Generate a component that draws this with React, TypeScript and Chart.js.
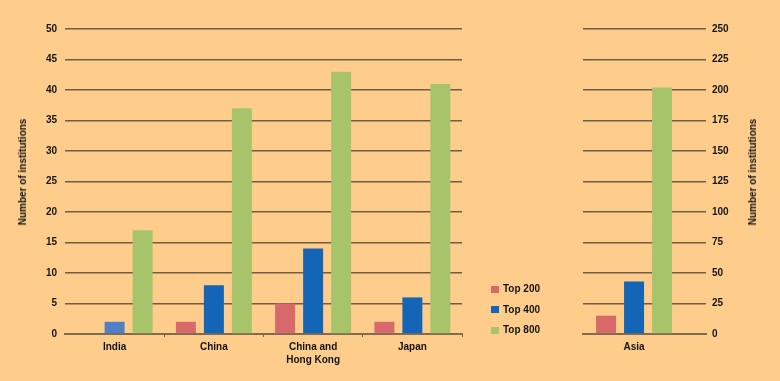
import React, { useEffect, useRef } from "react";
import { Chart, registerables } from "chart.js";

Chart.register(...registerables);

const regionLabels: (string | string[])[] = ["India", "China", ["China and", "Hong Kong"], "Japan"];
const top200: (number | null)[] = [null, 2, 5, 2];
const top400: number[] = [2, 8, 14, 6];
const top800: number[] = [17, 37, 43, 41];

const asiaLabels: string[] = ["Asia"];
const asiaTop200: number[] = [15];
const asiaTop400: number[] = [43];
const asiaTop800: number[] = [202];

const seriesNames = ["Top 200", "Top 400", "Top 800"];
const seriesColors = ["#D8696A", "#1565B6", "#A8C46A"];
const indiaBlue = "#4F7FC6";

const BG = "#FECD8C";
const GRID = "#6F5D44";
const FONT = "'Liberation Sans', Arial, sans-serif";
const TEXT = "#141414";

const tickFont = { family: FONT, weight: "bold" as const, size: 10, lineHeight: 1.25 };

export default function App() {
  const leftRef = useRef<HTMLCanvasElement | null>(null);
  const rightRef = useRef<HTMLCanvasElement | null>(null);

  useEffect(() => {
    document.body.style.margin = "0";
    const left = new Chart(leftRef.current!, {
      type: "bar",
      data: {
        labels: regionLabels,
        datasets: [
          { label: seriesNames[0], data: top200, backgroundColor: seriesColors[0] },
          {
            label: seriesNames[1],
            data: top400,
            backgroundColor: top400.map((_, i) => (i === 0 ? indiaBlue : seriesColors[1])),
          },
          { label: seriesNames[2], data: top800, backgroundColor: seriesColors[2] },
        ],
      },
      options: {
        animation: false,
        responsive: false,
        maintainAspectRatio: false,
        layout: { padding: { left: 0, right: 13, top: 29, bottom: 0 } },
        plugins: { legend: { display: false }, tooltip: { enabled: false } },
        datasets: { bar: { categoryPercentage: 0.846, barPercentage: 0.714 } },
        scales: {
          x: {
            grid: {
              drawOnChartArea: false,
              drawTicks: true,
              tickLength: 3,
              color: (ctx: any) => (ctx.index === 0 || ctx.index >= regionLabels.length ? "rgba(0,0,0,0)" : GRID),
            },
            border: { display: true, color: "#7E6C52", width: 2 },
            ticks: { color: TEXT, font: tickFont, padding: 4, maxRotation: 0, autoSkip: false },
            afterFit: (s: any) => {
              s.height = 47;
            },
          },
          y: {
            min: 0,
            max: 50,
            grid: { color: GRID, lineWidth: 1.5, drawTicks: false },
            border: { display: false },
            ticks: { stepSize: 5, color: TEXT, font: tickFont, padding: 8 },
            afterFit: (s: any) => {
              s.width = 65;
            },
          },
        },
      },
    });

    const right = new Chart(rightRef.current!, {
      type: "bar",
      data: {
        labels: asiaLabels,
        datasets: [
          { label: seriesNames[0], data: asiaTop200, backgroundColor: seriesColors[0] },
          { label: seriesNames[1], data: asiaTop400, backgroundColor: seriesColors[1] },
          { label: seriesNames[2], data: asiaTop800, backgroundColor: seriesColors[2] },
        ],
      },
      options: {
        animation: false,
        responsive: false,
        maintainAspectRatio: false,
        layout: { padding: { left: 108, right: 0, top: 29, bottom: 0 } },
        plugins: { legend: { display: false }, tooltip: { enabled: false } },
        datasets: { bar: { categoryPercentage: 0.683, barPercentage: 0.714 } },
        scales: {
          x: {
            grid: { drawOnChartArea: false, drawTicks: false },
            border: { display: true, color: "#7E6C52", width: 2 },
            ticks: { color: TEXT, font: tickFont, padding: 7, maxRotation: 0 },
            afterBuildTicks: (s: any) => {
              // the group sits left of the panel's centre in the reference
              s._startValue = -0.415;
            },
            afterFit: (s: any) => {
              s.height = 47;
            },
          },
          y: {
            position: "right",
            min: 0,
            max: 250,
            grid: { color: GRID, lineWidth: 1.5, drawTicks: false },
            border: { display: false },
            ticks: { stepSize: 25, color: TEXT, font: tickFont, padding: 6 },
            afterFit: (s: any) => {
              s.width = 74;
            },
          },
        },
      },
    });

    return () => {
      left.destroy();
      right.destroy();
    };
  }, []);

  const textStyle: React.CSSProperties = {
    position: "absolute",
    fontFamily: FONT,
    fontWeight: "bold",
    fontSize: 10,
    color: TEXT,
    whiteSpace: "nowrap",
    lineHeight: "12px",
  };

  return (
    <div style={{ position: "fixed", left: 0, top: 0, width: 780, height: 381, background: BG, overflow: "hidden" }}>
      <canvas ref={leftRef} width={475} height={381} style={{ position: "absolute", left: 0, top: 0, width: 475, height: 381 }} />
      <canvas ref={rightRef} width={305} height={381} style={{ position: "absolute", left: 475, top: 0, width: 305, height: 381 }} />
      <div style={{ ...textStyle, left: 23, top: 171.5, transform: "translate(-50%, -50%) rotate(-90deg)" }}>
        Number of institutions
      </div>
      <div style={{ ...textStyle, left: 753, top: 171.5, transform: "translate(-50%, -50%) rotate(-90deg)" }}>
        Number of institutions
      </div>
      {seriesNames.map((name, i) => (
        <div key={name} style={{ position: "absolute", left: 491, top: 283 + i * 20.5, height: 12, display: "flex", alignItems: "center" }}>
          <div style={{ width: 8, height: 7, background: seriesColors[i], marginRight: 4 }} />
          <span style={{ ...textStyle, position: "static" }}>{name}</span>
        </div>
      ))}
    </div>
  );
}
